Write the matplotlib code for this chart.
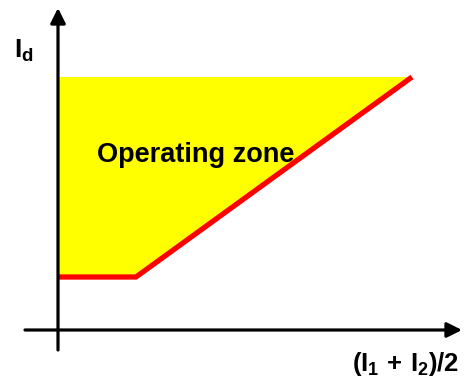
import matplotlib.pyplot as plt

plt.rcParams['mathtext.fontset'] = 'custom'
plt.rcParams['mathtext.rm'] = 'Liberation Sans:bold'
plt.rcParams['mathtext.bf'] = 'Liberation Sans:bold'
plt.rcParams['mathtext.it'] = 'Liberation Sans:bold'

# characteristic: flat part, then slope up to the limit
char_x = [0, 78, 354]
char_y = [53, 53, 253]
zone_top = 253

fig = plt.figure(figsize=(4.65, 3.8), dpi=100)
ax = fig.add_axes([0, 0, 1, 1])
ax.set_xlim(-58, 407)
ax.set_ylim(-50, 330)
ax.axis('off')

# operating zone
zx = char_x + [char_x[-1], 0]
zy = char_y + [zone_top, zone_top]
ax.fill(zx, zy, color='#FFFF00', lw=0, zorder=1)

ax.plot(char_x, char_y, color='#FF0000', lw=3.8, solid_capstyle='butt', zorder=3)

# axes with arrows
ax.annotate('', xy=(404, 0), xytext=(-33, 0),
            arrowprops=dict(arrowstyle='-|>,head_length=0.9,head_width=0.45', color='black', lw=2.3,
                            shrinkA=0, shrinkB=0), zorder=4)
ax.annotate('', xy=(0, 322), xytext=(0, -20),
            arrowprops=dict(arrowstyle='-|>,head_length=0.9,head_width=0.45', color='black', lw=2.3,
                            shrinkA=0, shrinkB=0), zorder=4)

ax.text(138, 168, 'Operating zone', fontsize=19.5, fontweight='bold',
        family='Liberation Sans', ha='center', va='baseline', zorder=5)
ax.text(-44, 272, r'$I_d$', fontsize=19, ha='left', va='baseline')
ax.text(348, -41, r'$(I_1\,+\,I_2)/2$', fontsize=18.5, ha='center', va='baseline')

fig.savefig('out.png', dpi=100)
